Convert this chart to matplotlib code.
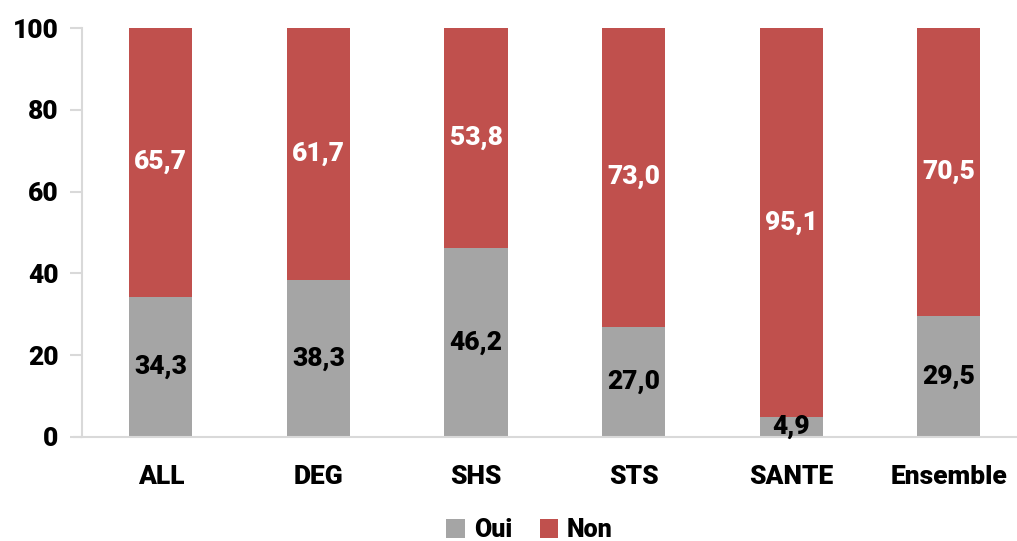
import matplotlib.pyplot as plt
import numpy as np

categories = ["ALL", "DEG", "SHS", "STS", "SANTE", "Ensemble"]
oui = [34.3, 38.3, 46.2, 27.0, 4.9, 29.5]
non = [65.7, 61.7, 53.8, 73.0, 95.1, 70.5]
yticks = [0, 20, 40, 60, 80, 100]

C_OUI = "#A5A5A5"
C_NON = "#C0504D"
GRID = "#D9D9D9"
W = "heavy"

plt.rcParams["font.family"] = ["Roboto", "DejaVu Sans"]
plt.rcParams["font.weight"] = W


def fmt(v):
    return f"{v:.1f}".replace(".", ",")


fig = plt.figure(figsize=(10.17, 5.41), dpi=100)
ax = fig.add_axes([82 / 1017, 1 - 437 / 541, (1017 - 82) / 1017, 409 / 541])

x = np.arange(len(categories))
ax.bar(x, oui, width=0.4, color=C_OUI, label="Oui")
ax.bar(x, non, width=0.4, bottom=oui, color=C_NON, label="Non")

# value labels in the middle of each segment
for i in range(len(categories)):
    ax.text(x[i], oui[i] / 2, fmt(oui[i]), ha="center", va="center",
            fontsize=19, fontweight=W, color="black")
    ax.text(x[i], oui[i] + non[i] / 2, fmt(non[i]), ha="center",
            va="center", fontsize=19, fontweight=W, color="white")

ax.set_xlim(-0.5, -0.5 + (1017 - 82) / 157.6)
ax.set_ylim(0, 100)
ax.set_yticks(yticks)
ax.set_xticks(x)
ax.set_xticklabels(categories, fontsize=19, fontweight=W)
ax.tick_params(axis="y", length=9, color=GRID, width=1.5, labelsize=19,
               pad=8)
ax.tick_params(axis="x", length=0, pad=20)
for lab in ax.get_yticklabels():
    lab.set_fontweight(W)

for s in ["top", "right"]:
    ax.spines[s].set_visible(False)
for s in ["left", "bottom"]:
    ax.spines[s].set_color(GRID)
    ax.spines[s].set_linewidth(1.5)
# bottom line reaches out under the 0 tick
ax.plot([-0.5 - 9 / 157.6, -0.5], [0, 0], color=GRID, lw=1.5,
        clip_on=False, solid_capstyle="butt")

ax.legend(loc="center", bbox_to_anchor=(0.5 - 20 / 935, -0.228),
          ncol=2, frameon=False, fontsize=18, handlelength=0.75,
          handleheight=0.75, handletextpad=0.35, columnspacing=1.1)

fig.savefig("out.png", dpi=100)
